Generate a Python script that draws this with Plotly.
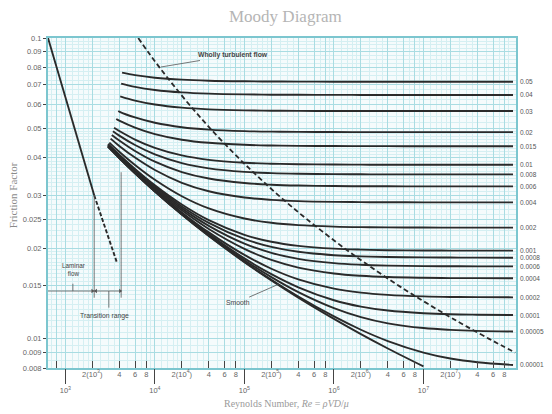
import math
import plotly.graph_objects as go

# ---------------- data ----------------
ROUGHNESS_LABELS = ["0.05", "0.04", "0.03", "0.02", "0.015", "0.01", "0.008", "0.006", "0.004",
                    "0.002", "0.001", "0.0008", "0.0006", "0.0004", "0.0002", "0.0001", "0.00005",
                    "0.00001", ""]  # last one is the smooth-pipe curve (no label)

RE_GRID = [4000, 6000, 1e4, 2e4, 4e4, 1e5, 2e5, 4e5, 1e6, 2e6, 4e6, 1e7, 2e7, 4e7, 1e8]

# first point of every curve (left end, Reynolds number and friction factor)
RE_START = [4300, 4200, 4100, 3900, 3700, 3500, 3400, 3300, 3200, 3100,
            3000, 3000, 3000, 3000, 3000, 3000, 3000, 3000, 3000]
F_START = [0.0767, 0.0705, 0.0640, 0.0572, 0.0538, 0.0503, 0.0490, 0.0476, 0.0463, 0.0449,
           0.04441, 0.04423, 0.04406, 0.04388, 0.04370, 0.04361, 0.04356, 0.04353, 0.04352]

F_0_05 = [0.07699, 0.07524, 0.07380, 0.07269, 0.07212, 0.07178, 0.07167, 0.07161, 0.07157, 0.07156, 0.07156, 0.07155, 0.07155, 0.07155, 0.07155]
F_0_04 = [0.07070, 0.06879, 0.06719, 0.06595, 0.06532, 0.06493, 0.06480, 0.06474, 0.06470, 0.06468, 0.06468, 0.06467, 0.06467, 0.06467, 0.06467]
F_0_03 = [0.06408, 0.06193, 0.06011, 0.05867, 0.05793, 0.05748, 0.05733, 0.05725, 0.05720, 0.05719, 0.05718, 0.05718, 0.05718, 0.05717, 0.05717]
F_0_02 = [0.05696, 0.05445, 0.05227, 0.05052, 0.04960, 0.04903, 0.04883, 0.04874, 0.04868, 0.04866, 0.04865, 0.04864, 0.04864, 0.04864, 0.04864]
F_0_015 = [0.05314, 0.05037, 0.04793, 0.04591, 0.04483, 0.04415, 0.04392, 0.04381, 0.04374, 0.04371, 0.04370, 0.04369, 0.04369, 0.04369, 0.04369]
F_0_01 = [0.04908, 0.04596, 0.04313, 0.04071, 0.03936, 0.03850, 0.03821, 0.03806, 0.03796, 0.03793, 0.03792, 0.03791, 0.03791, 0.03791, 0.03790]
F_0_008 = [0.04738, 0.04408, 0.04103, 0.03837, 0.03687, 0.03589, 0.03555, 0.03537, 0.03527, 0.03523, 0.03522, 0.03520, 0.03520, 0.03520, 0.03520]
F_0_006 = [0.04562, 0.04211, 0.03880, 0.03584, 0.03411, 0.03295, 0.03254, 0.03233, 0.03220, 0.03216, 0.03214, 0.03212, 0.03212, 0.03212, 0.03212]
F_0_004 = [0.04379, 0.04004, 0.03641, 0.03302, 0.03095, 0.02950, 0.02897, 0.02870, 0.02853, 0.02847, 0.02844, 0.02843, 0.02842, 0.02842, 0.02842]
F_0_002 = [0.04189, 0.03785, 0.03379, 0.02979, 0.02713, 0.02511, 0.02431, 0.02388, 0.02361, 0.02351, 0.02347, 0.02344, 0.02343, 0.02343, 0.02342]
F_0_001 = [0.04091, 0.03670, 0.03238, 0.02795, 0.02480, 0.02217, 0.02103, 0.02038, 0.01994, 0.01979, 0.01971, 0.01967, 0.01965, 0.01964, 0.01964]
F_0_0008 = [0.04071, 0.03646, 0.03209, 0.02755, 0.02429, 0.02148, 0.02022, 0.01947, 0.01897, 0.01880, 0.01870, 0.01865, 0.01863, 0.01862, 0.01861]
F_0_0006 = [0.04051, 0.03622, 0.03179, 0.02715, 0.02375, 0.02073, 0.01931, 0.01845, 0.01785, 0.01763, 0.01752, 0.01745, 0.01743, 0.01742, 0.01741]
F_0_0004 = [0.04031, 0.03599, 0.03149, 0.02674, 0.02318, 0.01991, 0.01829, 0.01725, 0.01649, 0.01620, 0.01605, 0.01596, 0.01592, 0.01591, 0.01590]
F_0_0002 = [0.04011, 0.03575, 0.03119, 0.02632, 0.02259, 0.01901, 0.01710, 0.01576, 0.01468, 0.01424, 0.01400, 0.01384, 0.01378, 0.01376, 0.01374]
F_0_0001 = [0.04001, 0.03562, 0.03104, 0.02610, 0.02229, 0.01851, 0.01641, 0.01484, 0.01344, 0.01280, 0.01242, 0.01217, 0.01207, 0.01203, 0.01200]
F_0_00005 = [0.03996, 0.03556, 0.03096, 0.02599, 0.02213, 0.01826, 0.01604, 0.01430, 0.01265, 0.01181, 0.01126, 0.01086, 0.01071, 0.01063, 0.01058]
F_0_00001 = [0.03992, 0.03552, 0.03090, 0.02591, 0.02200, 0.01804, 0.01572, 0.01383, 0.01187, 0.01072, 0.00983, 0.00900, 0.00860, 0.00836, 0.00819]
F_SMOOTH = [0.03991, 0.03550, 0.03088, 0.02588, 0.02197, 0.01799, 0.01564, 0.01371, 0.01165, 0.01037, 0.00929, 0.00810, None, None, None]

F_CURVES = [F_0_05, F_0_04, F_0_03, F_0_02, F_0_015, F_0_01, F_0_008, F_0_006, F_0_004,
            F_0_002, F_0_001, F_0_0008, F_0_0006, F_0_0004, F_0_0002, F_0_0001, F_0_00005,
            F_0_00001, F_SMOOTH]

# "Wholly turbulent flow" boundary (dashed)
F_WHOLLY = [0.1, 0.09, 0.08, 0.07, 0.06, 0.05, 0.04, 0.035, 0.03, 0.025, 0.02, 0.018, 0.016,
            0.014, 0.012, 0.011, 0.01, 0.0095, 0.009]
RE_WHOLLY = [6.52e3, 8.36e3, 1.12e4, 1.59e4, 2.43e4, 4.16e4, 8.55e4, 1.36e5, 2.4e5, 4.97e5,
             1.31e6, 2.15e6, 3.83e6, 7.68e6, 1.81e7, 3.02e7, 5.41e7, 7.48e7, 1.06e8]

# laminar flow line (solid) and its extension into the transition range (dashed)
RE_LAMINAR = [640, 2100]
F_LAMINAR = [0.1, 0.0300]
RE_LAMINAR_EXT = [2100, 3750]
F_LAMINAR_EXT = [0.0300, 0.0180]

# laminar / transition range brackets
RE_LAM_END = 2100
RE_TRANS_END = 4200
F_BRACKET = 0.01442
F_LAM_MARK_TOP = 0.0300
F_TRANS_MARK_TOP = 0.0358
F_MARK_BOTTOM = 0.0137
RE_LAM_LABEL_TICK = 1213
RE_TRANS_LABEL_TICK = 3060
F_LAM_LABEL_TICK_TOP = 0.01525
F_TRANS_LABEL_TICK_BOTTOM = 0.01270

# axis labels
Y_TICKS = [0.1, 0.09, 0.08, 0.07, 0.06, 0.05, 0.04, 0.03, 0.025, 0.02, 0.015, 0.01, 0.009, 0.008]
Y_TICKTEXT = ["0.1", "0.09", "0.08", "0.07", "0.06", "0.05", "0.04", "0.03", "0.025", "0.02",
              "0.015", "0.01", "0.009", "0.008"]
X_DECADES = [1e3, 1e4, 1e5, 1e6, 1e7]
X_DECADE_TEXT = ["10<sup>3</sup>", "10<sup>4</sup>", "10<sup>5</sup>", "10<sup>6</sup>", "10<sup>7</sup>"]
X_MINOR_MULT = [2, 4, 6, 8]

# ---------------- styling ----------------
INK = "#2a2a2a"
TEAL = "#7cc6cf"
GRID_MAJOR = "#a9dce2"
GRID_MINOR = "#d5eff2"
SANS = "Liberation Sans"
SERIF = "Liberation Serif"
X_RANGE = [math.log10(640), math.log10(1.08e8)]
Y_RANGE = [math.log10(0.008), -1]

fig = go.Figure()

for lab, rs, fs0, fs in zip(ROUGHNESS_LABELS, RE_START, F_START, F_CURVES):
    xs = [rs] + [r for r, f in zip(RE_GRID, fs) if r > rs and f is not None]
    ys = [fs0] + [f for r, f in zip(RE_GRID, fs) if r > rs and f is not None]
    fig.add_trace(go.Scatter(x=xs, y=ys, mode="lines", hoverinfo="skip", showlegend=False,
                             line=dict(color=INK, width=1.9, shape="spline")))

fig.add_trace(go.Scatter(x=RE_WHOLLY, y=F_WHOLLY, mode="lines", hoverinfo="skip", showlegend=False,
                         line=dict(color=INK, width=1.8, dash="5px,3px", shape="spline")))
fig.add_trace(go.Scatter(x=RE_LAMINAR, y=F_LAMINAR, mode="lines", hoverinfo="skip", showlegend=False,
                         line=dict(color=INK, width=1.9)))
fig.add_trace(go.Scatter(x=RE_LAMINAR_EXT, y=F_LAMINAR_EXT, mode="lines", hoverinfo="skip",
                         showlegend=False, line=dict(color=INK, width=1.9, dash="4px,2px")))

# bracket lines for laminar / transition annotation
thin = dict(color="#555555", width=0.8)
fig.add_trace(go.Scatter(x=[RE_LAM_END, RE_LAM_END], y=[F_LAM_MARK_TOP, F_MARK_BOTTOM], mode="lines",
                         line=thin, hoverinfo="skip", showlegend=False))
fig.add_trace(go.Scatter(x=[RE_TRANS_END, RE_TRANS_END], y=[F_TRANS_MARK_TOP, F_MARK_BOTTOM], mode="lines",
                         line=thin, hoverinfo="skip", showlegend=False))
fig.add_trace(go.Scatter(x=[10 ** X_RANGE[0], RE_TRANS_END], y=[F_BRACKET, F_BRACKET], mode="lines",
                         line=thin, hoverinfo="skip", showlegend=False))
fig.add_trace(go.Scatter(x=[RE_LAM_LABEL_TICK, RE_LAM_LABEL_TICK], y=[F_LAM_LABEL_TICK_TOP, F_BRACKET],
                         mode="lines", line=thin, hoverinfo="skip", showlegend=False))
fig.add_trace(go.Scatter(x=[RE_TRANS_LABEL_TICK, RE_TRANS_LABEL_TICK], y=[F_BRACKET, F_TRANS_LABEL_TICK_BOTTOM],
                         mode="lines", line=thin, hoverinfo="skip", showlegend=False))
fig.add_trace(go.Scatter(x=[RE_LAM_END * 0.955, RE_LAM_END * 1.045, RE_TRANS_END * 0.975],
                         y=[F_BRACKET] * 3, mode="markers", hoverinfo="skip", showlegend=False,
                         marker=dict(symbol=["triangle-right", "triangle-left", "triangle-right"],
                                     size=4, color="#555555")))

# empty traces so the overlay axes exist
fig.add_trace(go.Scatter(x=[], y=[], xaxis="x2", showlegend=False, hoverinfo="skip"))
fig.add_trace(go.Scatter(x=[], y=[], xaxis="x3", showlegend=False, hoverinfo="skip"))

# grid positions
x_major_grid = [m * 10 ** e for e in range(2, 8) for m in (1, 2, 4, 6, 8)]
x_minor_grid = [m * 10 ** e for e in range(2, 8) for m in (1.2, 1.4, 1.6, 1.8, 2.5, 3, 3.5, 5, 7, 9)]
y_minor_grid = ([round(0.0080 + 0.0005 * i, 5) for i in range(4)] +
                [round(0.0100 + 0.0005 * i, 5) for i in range(20)] +
                [round(0.0200 + 0.0010 * i, 5) for i in range(30)] +
                [round(0.0500 + 0.0025 * i, 5) for i in range(21)])

minor_labels_x, minor_labels_t = [800], [" "]
for e in range(3, 8):
    for m in X_MINOR_MULT:
        minor_labels_x.append(m * 10 ** e)
        minor_labels_t.append(f"2(10<sup>{e}</sup>)" if m == 2 else str(m))

tickfont = dict(family=SANS, size=7.5, color="#666666")

# the page is drawn with an 8px body margin, so the figure is 8px smaller and margins shifted
fig.update_layout(
    width=544, height=406,
    margin=dict(l=40, r=36, t=30, b=46, autoexpand=False),
    paper_bgcolor="white", plot_bgcolor="#f5fbfc",
    xaxis=dict(type="log", range=X_RANGE, tickmode="array", tickvals=x_major_grid,
               showticklabels=False, ticks="", showgrid=True, gridcolor=GRID_MAJOR, gridwidth=1,
               minor=dict(tickvals=x_minor_grid, showgrid=True, gridcolor=GRID_MINOR, gridwidth=1, ticks=""),
               showline=True, mirror=True, linecolor=TEAL, linewidth=2, zeroline=False),
    xaxis2=dict(type="log", range=X_RANGE, overlaying="x", anchor="y", side="bottom",
                tickmode="array", tickvals=X_DECADES, ticktext=X_DECADE_TEXT,
                ticks="outside", ticklen=15, tickwidth=1, tickcolor="#444444",
                showgrid=False, showline=False, zeroline=False, tickfont=tickfont),
    xaxis3=dict(type="log", range=X_RANGE, overlaying="x", anchor="y", side="bottom",
                tickmode="array", tickvals=minor_labels_x, ticktext=minor_labels_t,
                ticks="inside", ticklen=7, tickwidth=1, tickcolor="#444444",
                showgrid=False, showline=False, zeroline=False, tickfont=tickfont),
    yaxis=dict(type="log", range=Y_RANGE, tickmode="array", tickvals=Y_TICKS, ticktext=Y_TICKTEXT,
               ticks="outside", ticklen=3, tickwidth=1, tickcolor="#444444",
               showgrid=True, gridcolor=GRID_MAJOR, gridwidth=1,
               minor=dict(tickvals=y_minor_grid, showgrid=True, gridcolor=GRID_MINOR, gridwidth=1, ticks=""),
               showline=True, mirror=True, linecolor=TEAL, linewidth=2, zeroline=False,
               tickfont=dict(family=SANS, size=7.5, color="#666666")),
)

ann = []
# relative roughness labels at the right-hand end of each curve
for lab, fs in zip(ROUGHNESS_LABELS, F_CURVES):
    if lab and fs[-1] is not None:
        ann.append(dict(x=1.004, xref="paper", y=math.log10(fs[-1]), yref="y", text=lab,
                        showarrow=False, xanchor="left", yanchor="middle",
                        font=dict(family=SANS, size=6.5, color="#555555")))

ann.append(dict(x=0.508, y=1.064, xref="paper", yref="paper", text="Moody Diagram", showarrow=False,
                font=dict(family=SERIF, size=17, color="#b5b5b5"), xanchor="center", yanchor="middle"))
ann.append(dict(x=0.51, y=-0.107, xref="paper", yref="paper",
                text="Reynolds Number, <i>Re</i> = <i>ρVD</i>/<i>μ</i>", showarrow=False,
                font=dict(family=SERIF, size=10, color="#9a9a9a"), xanchor="center", yanchor="middle"))
ann.append(dict(x=-0.0745, y=0.524, xref="paper", yref="paper", text="Friction Factor", showarrow=False,
                textangle=-90, font=dict(family=SERIF, size=11, color="#8a8a8a"),
                xanchor="center", yanchor="middle"))
ann.append(dict(x=math.log10(11700), y=math.log10(0.0801), xref="x", yref="y",
                text="<b>Wholly turbulent flow</b>", showarrow=True, arrowhead=0, arrowwidth=0.8,
                arrowcolor="#555555", ax=72, ay=-12, font=dict(family=SANS, size=6.8, color="#444444")))
ann.append(dict(x=math.log10(2.42e5), y=math.log10(0.0152), xref="x", yref="y",
                text="Smooth", showarrow=True, arrowhead=0, arrowwidth=0.8,
                arrowcolor="#555555", ax=-41, ay=18, font=dict(family=SANS, size=6.8, color="#444444")))
ann.append(dict(x=math.log10(1245), y=math.log10(0.0170), xref="x", yref="y",
                text="Laminar<br>flow", showarrow=False,
                font=dict(family=SANS, size=6.3, color="#444444")))
ann.append(dict(x=math.log10(2764), y=math.log10(0.01191), xref="x", yref="y",
                text="Transition range", showarrow=False,
                font=dict(family=SANS, size=6.8, color="#444444")))
fig.update_layout(annotations=ann)

fig.write_html("out.html")
